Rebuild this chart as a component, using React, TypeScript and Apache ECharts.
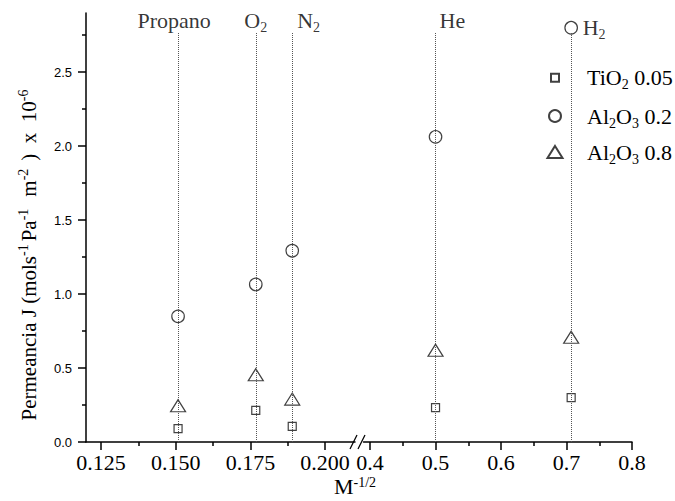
import React, { useEffect, useRef } from "react";
import * as echarts from "echarts";

// ---- data ----
const gasNames = ["Propano", "O2", "N2", "He", "H2"];
const gasLabels = ["{n|Propano}", "{n|O}{sub|2}", "{n|N}{sub|2}", "{n|He}", "{n|H}{sub|2}"];
const gasX = [0.1508, 0.1768, 0.189, 0.5, 0.7071];
const seriesNames = ["TiO2 0.05", "Al2O3 0.2", "Al2O3 0.8"];
const legendLabels = [
  "{g| }{n|TiO}{sub|2}{n| 0.05}",
  "{g| }{n|Al}{sub|2}{n|O}{sub|3}{n| 0.2}",
  "{g| }{n|Al}{sub|2}{n|O}{sub|3}{n| 0.8}",
];
const tio2_005 = [0.09, 0.214, 0.105, 0.232, 0.3];
const al2o3_02 = [0.849, 1.065, 1.293, 2.063, 2.8];
const al2o3_08 = [0.245, 0.455, 0.29, 0.62, 0.708];
const seriesValues = [tio2_005, al2o3_02, al2o3_08];
const leftTicks = [0.125, 0.15, 0.175, 0.2];
const leftMinorTicks = [0.1375, 0.1625, 0.1875];
const rightTicks = [0.4, 0.5, 0.6, 0.7, 0.8];
const rightMinorTicks = [0.45, 0.55, 0.65, 0.75];
const yTicks = [0, 0.5, 1.0, 1.5, 2.0, 2.5];
const yMinorTicks = [0.25, 0.75, 1.25, 1.75, 2.25, 2.75];
const leftRange = [0.12, 0.21];
const rightRange = [0.39, 0.8];
const yRange = [0, 2.9];
const guideTop = 2.77;
const breakX = 0.3;
// y title pieces: [style, text]
const yTitleParts: [string, string][] = [
  ["t", "Permeancia J (mols"],
  ["ts", "-1"],
  ["sp3", " "],
  ["t", "Pa"],
  ["ts", "-1"],
  ["sp12", " "],
  ["t", "m"],
  ["ts", "-2"],
  ["sp8", " "],
  ["t", ")  x  10"],
  ["ts", "-6"],
];

// ---- styles ----
const serif = "'Liberation Serif', 'Times New Roman', serif";
const sans = "'Liberation Sans', Arial, sans-serif";
const black = "#000";
const symbols = ["rect", "circle", "triangle"];
const symbolSizes: any[] = [8, 12.5, [15, 12]];
const legendIcon = [
  { w: 8, h: 8, cy: 80.7, g: 23 },
  { w: 12, h: 12, cy: 119, g: 21 },
  { w: 15, h: 12, cy: 155, g: 19.5 },
];
const labelPlace = [
  { pos: "top", align: "center", dx: -4 },
  { pos: "top", align: "center", dx: 0 },
  { pos: "top", align: "left", dx: 5 },
  { pos: "top", align: "left", dx: 4 },
  { pos: "right", align: "left", dx: 0 },
];

const rich: any = {
  n: { fontFamily: serif, fontSize: 22, color: black, lineHeight: 28 },
  sub: { fontFamily: serif, fontSize: 14, color: black, lineHeight: 10, verticalAlign: "bottom" },
  sup: { fontFamily: serif, fontSize: 14, color: black, lineHeight: 10, verticalAlign: "top" },
};
const titleRich: any = {
  t: { fontFamily: serif, fontSize: 21, color: black, lineHeight: 26 },
  ts: { fontFamily: serif, fontSize: 14, color: black, lineHeight: 9, verticalAlign: "top" },
};
[3, 8, 12].forEach((w) => {
  titleRich["sp" + w] = { width: w, fontSize: 2, lineHeight: 26 };
});
const mRich: any = {
  n: { fontFamily: serif, fontSize: 22, color: black, lineHeight: 22 },
  sup: { fontFamily: serif, fontSize: 14, color: black, lineHeight: 8, verticalAlign: "top" },
};

const axisLineStyle = { color: black, width: 1.5 };

function xAxes(gridIndex: number, range: number[], ticks: number[], minor: number[], digits: number) {
  return [
    {
      type: "value",
      gridIndex,
      position: "bottom",
      min: range[0],
      max: range[1],
      axisLine: { show: true, onZero: false, lineStyle: axisLineStyle },
      axisTick: { show: true, customValues: ticks, length: 8, lineStyle: axisLineStyle },
      axisLabel: {
        show: true,
        customValues: ticks,
        formatter: (v: number) => v.toFixed(digits),
        fontFamily: serif,
        fontSize: 22,
        color: black,
        margin: 9,
      },
      splitLine: { show: false },
    },
    {
      type: "value",
      gridIndex,
      position: "bottom",
      min: range[0],
      max: range[1],
      axisLine: { show: false, onZero: false },
      axisTick: { show: true, customValues: minor, length: 4, lineStyle: axisLineStyle },
      axisLabel: { show: false },
      splitLine: { show: false },
    },
  ];
}

function buildOption() {
  const leftIdx = gasX.map((x, i) => (x < breakX ? i : -1)).filter((i) => i >= 0);
  const rightIdx = gasX.map((x, i) => (x >= breakX ? i : -1)).filter((i) => i >= 0);
  const parts = [
    { idx: leftIdx, xAxisIndex: 0, yAxisIndex: 0 },
    { idx: rightIdx, xAxisIndex: 2, yAxisIndex: 2 },
  ];

  const series: any[] = [];
  seriesNames.forEach((name, s) => {
    parts.forEach((p) => {
      series.push({
        type: "scatter",
        name,
        xAxisIndex: p.xAxisIndex,
        yAxisIndex: p.yAxisIndex,
        symbol: symbols[s],
        symbolSize: symbolSizes[s],
        itemStyle: { color: "transparent", borderColor: "#111", borderWidth: 1.2 },
        data: p.idx.map((i) => [gasX[i], seriesValues[s][i]]),
        z: 3,
      });
    });
  });

  parts.forEach((p) => {
    series.push({
      type: "scatter",
      xAxisIndex: p.xAxisIndex,
      yAxisIndex: p.yAxisIndex,
      data: [],
      silent: true,
      markLine: {
        silent: true,
        symbol: ["none", "none"],
        label: { show: false },
        lineStyle: { color: "#555", type: "dotted", width: 1 },
        data: p.idx.map((i) => [{ coord: [gasX[i], 0] }, { coord: [gasX[i], guideTop] }]),
      },
    });
    series.push({
      type: "scatter",
      xAxisIndex: p.xAxisIndex,
      yAxisIndex: p.yAxisIndex,
      silent: true,
      symbolSize: 1,
      itemStyle: { color: "transparent" },
      z: 4,
      data: p.idx.map((i) => {
        const lp = labelPlace[i];
        const y = lp.pos === "right" ? al2o3_02[i] : guideTop;
        return {
          name: gasNames[i],
          value: [gasX[i], y],
          label: {
            show: true,
            position: lp.pos,
            align: lp.align,
            distance: lp.pos === "right" ? 11 : 0,
            offset: lp.pos === "right" ? [0, 0] : [lp.dx, 3],
            formatter: gasLabels[i],
            rich,
          },
        };
      }),
    });
  });

  const legend = seriesNames.map((name, i) => {
    const li = legendIcon[i];
    return {
      data: [name],
      orient: "vertical",
      left: 554 - li.w / 2,
      top: li.cy - 14,
      padding: 0,
      itemGap: 0,
      itemWidth: li.w,
      itemHeight: li.h,
      selectedMode: false,
      formatter: () => legendLabels[i],
      textStyle: { rich: { ...rich, g: { width: li.g, fontSize: 4, lineHeight: 28 } } },
    };
  });

  const yTitle = yTitleParts.map(([st, tx]) => `{${st}|${tx}}`).join("");

  return {
    animation: false,
    backgroundColor: "#fff",
    grid: [
      { left: 86, top: 13, width: 269, height: 429, containLabel: false, outerBoundsMode: "none" },
      { left: 363.5, top: 13, width: 268.5, height: 429, containLabel: false, outerBoundsMode: "none" },
    ],
    xAxis: [
      ...xAxes(0, leftRange, leftTicks, leftMinorTicks, 3),
      ...xAxes(1, rightRange, rightTicks, rightMinorTicks, 1),
    ],
    yAxis: [
      {
        type: "value",
        gridIndex: 0,
        position: "left",
        min: yRange[0],
        max: yRange[1],
        axisLine: { show: true, lineStyle: axisLineStyle },
        axisTick: { show: true, customValues: yTicks, length: 8, lineStyle: axisLineStyle },
        axisLabel: {
          show: true,
          customValues: yTicks,
          formatter: (v: number) => v.toFixed(1),
          fontFamily: sans,
          fontSize: 13,
          color: black,
          margin: 14,
        },
        splitLine: { show: false },
      },
      {
        type: "value",
        gridIndex: 0,
        position: "left",
        min: yRange[0],
        max: yRange[1],
        axisLine: { show: false },
        axisTick: { show: true, customValues: yMinorTicks, length: 4, lineStyle: axisLineStyle },
        axisLabel: { show: false },
        splitLine: { show: false },
      },
      { type: "value", gridIndex: 1, min: yRange[0], max: yRange[1], show: false },
    ],
    legend,
    series,
    graphic: [
      {
        type: "text",
        x: 29,
        y: 255,
        rotation: Math.PI / 2,
        style: {
          text: yTitle,
          rich: titleRich,
          align: "center",
          verticalAlign: "middle",
        },
      },
      {
        type: "text",
        x: 355,
        y: 486,
        style: {
          text: "{n|M}{sup|-1/2}",
          rich: mRich,
          align: "center",
          verticalAlign: "middle",
        },
      },
      {
        type: "line",
        shape: { x1: 350, y1: 449, x2: 357, y2: 435 },
        style: { stroke: black, lineWidth: 1.3 },
      },
      {
        type: "line",
        shape: { x1: 358, y1: 449, x2: 365, y2: 435 },
        style: { stroke: black, lineWidth: 1.3 },
      },
    ],
  };
}

export default function App() {
  const ref = useRef<HTMLDivElement>(null);
  useEffect(() => {
    const chart = echarts.init(ref.current!, undefined, { renderer: "svg" });
    chart.setOption(buildOption() as any);
    return () => chart.dispose();
  }, []);
  return (
    <div
      ref={ref}
      style={{ position: "fixed", left: 0, top: 0, width: 675, height: 501, background: "#fff" }}
    />
  );
}
